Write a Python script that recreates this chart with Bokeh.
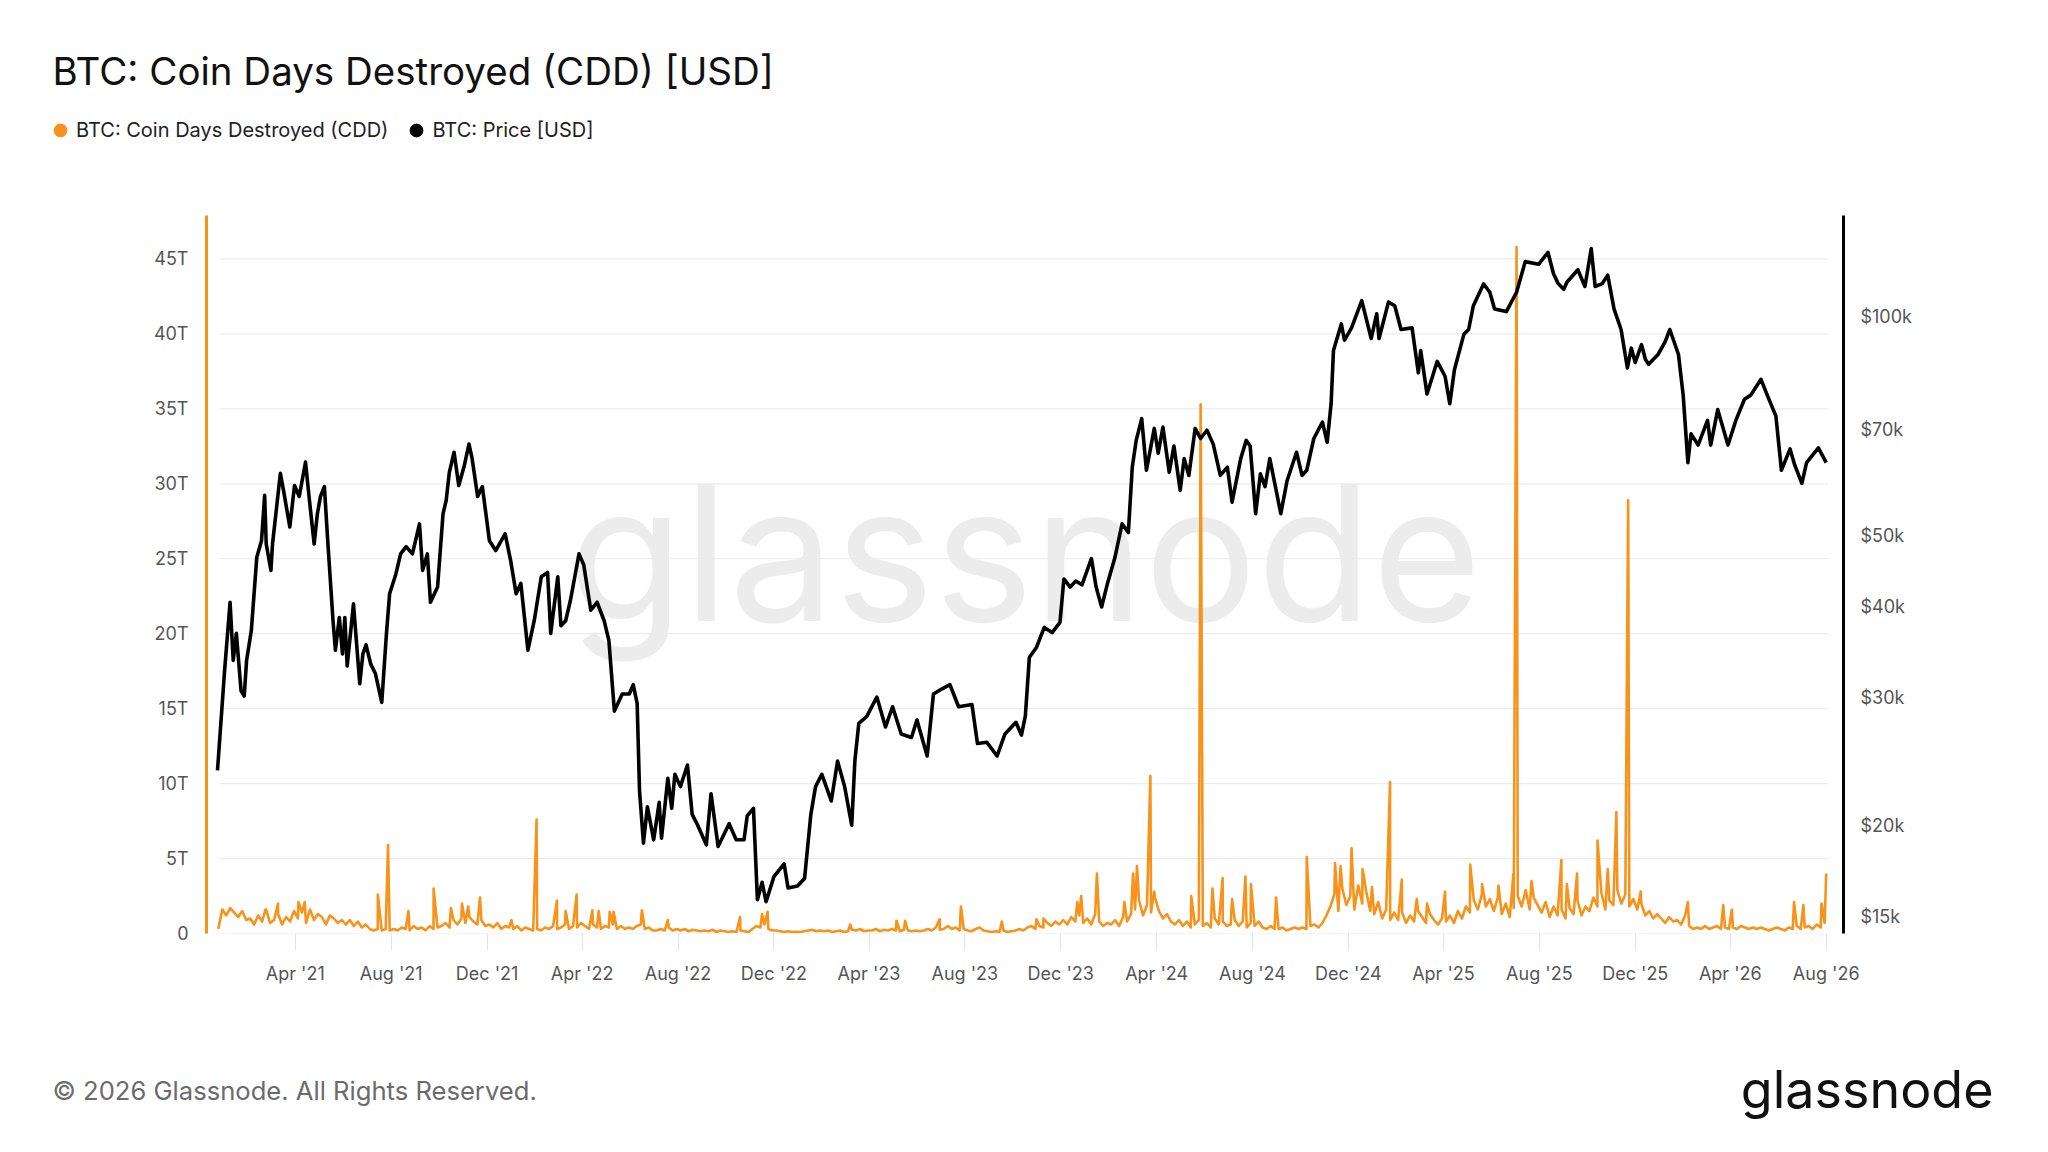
import pandas as pd
from bokeh.plotting import figure
from bokeh.layouts import column
from bokeh.models import (Range1d, LogScale, LogAxis, FixedTicker, NumeralTickFormatter,
                          PrintfTickFormatter, DatetimeTickFormatter, Label, Legend, LegendItem,
                          ColumnDataSource)
from bokeh.embed import file_html
from bokeh.resources import INLINE

FONT = "Inter"
ORANGE = "#f7931a"

# ---------------- texts ----------------
title_text = "BTC: Coin Days Destroyed (CDD) [USD]"
legend_labels = ["BTC: Coin Days Destroyed (CDD)", "BTC: Price [USD]"]
footer_text = "\u00a9 2026 Glassnode. All Rights Reserved."
logo_text = "glassnode"

# ---------------- ticks ----------------
x_tick_dates = ["2021-04-01", "2021-08-01", "2021-12-01", "2022-04-01", "2022-08-01", "2022-12-01",
                "2023-04-01", "2023-08-01", "2023-12-01", "2024-04-01", "2024-08-01", "2024-12-01",
                "2025-04-01", "2025-08-01", "2025-12-01", "2026-04-01", "2026-08-01"]
cdd_ticks = [0, 5, 10, 15, 20, 25, 30, 35, 40, 45]          # trillions USD
price_ticks = [15000, 20000, 30000, 40000, 50000, 70000, 100000]

# ---------------- BTC price (thousand USD) ----------------
price_dates = [
    # Dec 2020 - May 2022
    "2020-12-23", "2021-01-01", "2021-01-08", "2021-01-12", "2021-01-16", "2021-01-22", "2021-01-26", "2021-01-29",
    "2021-02-04", "2021-02-11", "2021-02-17", "2021-02-21", "2021-02-23", "2021-03-01", "2021-03-03", "2021-03-13",
    "2021-03-17", "2021-03-25", "2021-03-31", "2021-04-06", "2021-04-14", "2021-04-19", "2021-04-25", "2021-04-29",
    "2021-05-03", "2021-05-08", "2021-05-12", "2021-05-19", "2021-05-22", "2021-05-27", "2021-05-31", "2021-06-03",
    "2021-06-06", "2021-06-14", "2021-06-22", "2021-06-26", "2021-06-30", "2021-07-06", "2021-07-12", "2021-07-20",
    "2021-07-26", "2021-07-30", "2021-08-07", "2021-08-13", "2021-08-20", "2021-08-28", "2021-09-06", "2021-09-10",
    "2021-09-16", "2021-09-20", "2021-09-29", "2021-10-06", "2021-10-10", "2021-10-14", "2021-10-20", "2021-10-26",
    "2021-11-02", "2021-11-08", "2021-11-12", "2021-11-19", "2021-11-25", "2021-12-04", "2021-12-12", "2021-12-24",
    "2021-12-31", "2022-01-07", "2022-01-13", "2022-01-22", "2022-01-30", "2022-02-08", "2022-02-16", "2022-02-20",
    "2022-03-01", "2022-03-05", "2022-03-11", "2022-03-17", "2022-03-28", "2022-04-03", "2022-04-12", "2022-04-20",
    "2022-04-29", "2022-05-05", "2022-05-12", "2022-05-22",
    # May 2022 - Nov 2023
    "2022-05-31", "2022-06-05", "2022-06-10", "2022-06-13", "2022-06-18", "2022-06-23", "2022-07-01", "2022-07-08",
    "2022-07-11", "2022-07-19", "2022-07-24", "2022-07-28", "2022-08-04", "2022-08-13", "2022-08-19", "2022-08-26",
    "2022-09-06", "2022-09-12", "2022-09-21", "2022-10-05", "2022-10-14", "2022-10-24", "2022-10-28", "2022-11-05",
    "2022-11-10", "2022-11-16", "2022-11-21", "2022-12-01", "2022-12-14", "2022-12-19", "2022-12-31", "2023-01-09",
    "2023-01-17", "2023-01-23", "2023-01-31", "2023-02-12", "2023-02-20", "2023-03-01", "2023-03-10", "2023-03-14",
    "2023-03-19", "2023-03-29", "2023-04-11", "2023-04-22", "2023-05-01", "2023-05-12", "2023-05-25", "2023-06-01",
    "2023-06-14", "2023-06-22", "2023-07-03", "2023-07-13", "2023-07-24", "2023-08-10", "2023-08-17", "2023-08-29",
    "2023-09-11", "2023-09-21", "2023-10-05", "2023-10-12", "2023-10-17", "2023-10-22", "2023-10-31", "2023-11-10",
    "2023-11-20", "2023-11-30",
    # Dec 2023 - May 2025
    "2023-12-05", "2023-12-13", "2023-12-20", "2023-12-28", "2024-01-09", "2024-01-15", "2024-01-22", "2024-01-29",
    "2024-02-08", "2024-02-17", "2024-02-25", "2024-03-01", "2024-03-06", "2024-03-13", "2024-03-19", "2024-03-29",
    "2024-04-03", "2024-04-09", "2024-04-17", "2024-04-23", "2024-05-01", "2024-05-06", "2024-05-12", "2024-05-20",
    "2024-05-27", "2024-06-04", "2024-06-12", "2024-06-21", "2024-06-30", "2024-07-06", "2024-07-17", "2024-07-24",
    "2024-07-29", "2024-08-05", "2024-08-11", "2024-08-17", "2024-08-23", "2024-09-06", "2024-09-14", "2024-09-26",
    "2024-10-03", "2024-10-09", "2024-10-18", "2024-10-29", "2024-11-04", "2024-11-09", "2024-11-12", "2024-11-22",
    "2024-11-26", "2024-12-05", "2024-12-18", "2024-12-30", "2025-01-06", "2025-01-09", "2025-01-21", "2025-01-29",
    "2025-02-06", "2025-02-20", "2025-02-28", "2025-03-03", "2025-03-11", "2025-03-24", "2025-04-03", "2025-04-09",
    "2025-04-15", "2025-04-27", "2025-05-03",
    # May 2025 - Aug 2026
    "2025-05-09", "2025-05-22", "2025-05-30", "2025-06-05", "2025-06-20", "2025-07-03", "2025-07-14", "2025-07-31",
    "2025-08-08", "2025-08-12", "2025-08-19", "2025-08-25", "2025-09-01", "2025-09-05", "2025-09-19", "2025-09-28",
    "2025-10-06", "2025-10-11", "2025-10-20", "2025-10-27", "2025-11-04", "2025-11-13", "2025-11-21", "2025-11-26",
    "2025-12-01", "2025-12-09", "2025-12-14", "2025-12-18", "2025-12-30", "2026-01-08", "2026-01-14", "2026-01-25",
    "2026-01-31", "2026-02-06", "2026-02-10", "2026-02-19", "2026-03-03", "2026-03-07", "2026-03-16", "2026-03-29",
    "2026-04-08", "2026-04-19", "2026-04-27", "2026-05-10", "2026-05-19", "2026-05-29", "2026-06-05", "2026-06-16",
    "2026-06-22", "2026-07-01", "2026-07-07", "2026-07-22", "2026-08-01"]
price_k = [
    23.8, 32.6, 40.5, 33.7, 36.7, 30.6, 30.1, 33.7,
    37.0, 46.7, 49.2, 56.8, 48.7, 44.8, 48.7, 60.9,
    57.7, 51.4, 58.6, 56.6, 63.1, 55.9, 48.7, 53.5,
    56.6, 58.4, 49.7, 38.2, 34.8, 38.6, 34.4, 38.6,
    33.1, 40.3, 31.3, 34.4, 35.4, 33.3, 32.3, 29.5,
    36.7, 41.6, 44.3, 47.2, 48.3, 47.2, 51.9, 44.8,
    47.2, 40.5, 42.5, 53.6, 55.9, 61.1, 65.1, 58.6,
    62.4, 66.8, 63.8, 56.6, 58.4, 49.2, 47.7, 50.3,
    46.2, 41.6, 43.0, 34.8, 38.2, 43.9, 44.5, 36.7,
    43.9, 37.6, 38.2, 40.7, 47.2, 45.6, 39.5, 40.5,
    38.2, 35.9, 28.7, 30.3,
    30.3, 31.2, 29.4, 22.3, 18.9, 21.2, 19.1, 21.5,
    19.2, 23.2, 21.1, 23.5, 22.6, 24.2, 20.7, 20.0,
    18.8, 22.1, 18.7, 20.1, 19.1, 19.1, 20.6, 21.1,
    15.8, 16.7, 15.7, 17.0, 17.7, 16.4, 16.5, 16.9,
    20.7, 22.6, 23.5, 21.6, 24.5, 22.6, 20.0, 24.5,
    27.6, 28.2, 30.0, 27.3, 29.1, 26.7, 26.4, 27.9,
    24.9, 30.3, 30.8, 31.2, 29.1, 29.3, 25.9, 26.0,
    24.9, 26.7, 27.7, 26.6, 28.3, 34.0, 35.1, 37.4,
    36.8, 38.0,
    43.6, 42.5, 43.3, 42.8, 46.5, 42.5, 39.9, 42.8,
    46.7, 51.9, 50.5, 62.1, 67.6, 72.4, 61.5, 70.2,
    64.9, 70.5, 61.1, 66.4, 57.7, 63.8, 60.5, 70.2,
    68.0, 69.8, 66.8, 60.5, 62.1, 55.6, 63.8, 67.6,
    66.4, 53.6, 60.8, 58.4, 63.8, 53.6, 59.5, 65.1,
    60.5, 61.5, 68.0, 71.6, 67.2, 75.9, 89.8, 97.7,
    92.8, 96.5, 105.2, 93.3, 100.9, 93.3, 104.7, 103.5,
    96.0, 96.5, 83.7, 89.8, 78.3, 86.8, 82.8, 75.9,
    84.6, 94.6, 96.0,
    103.5, 110.9, 108.0, 102.4, 101.6, 108.0, 119.0, 118.0,
    121.0, 122.5, 114.5, 111.0, 109.0, 111.5, 116.0, 110.0,
    124.0, 110.0, 111.0, 114.0, 102.5, 96.0, 85.0, 90.5,
    86.5, 91.5, 87.3, 86.0, 88.7, 92.3, 96.0, 88.7,
    78.0, 63.0, 69.0, 66.6, 72.0, 66.6, 74.5, 66.6,
    72.0, 77.0, 78.0, 82.0, 77.5, 73.0, 61.5, 65.8,
    62.5, 59.0, 63.0, 66.0, 63.0]

# ---------------- CDD (trillion USD) ----------------
cdd_base_start = "2020-12-24"
cdd_base_end = "2026-07-30"
cdd_base = [
    0.3, 1.6, 1.2, 1.7, 1.4, 1.1, 1.5, 0.9,          # Dec 20 - Jan 21
    1.0, 0.6, 1.2, 0.8, 1.6, 0.7,                    # Feb 21
    0.9, 1.3, 0.6, 1.1, 0.8, 1.5,                    # Mar 21
    1.0, 1.4, 0.7, 1.6, 0.9, 1.3,                    # Apr 21
    1.1, 0.6, 1.2, 1.0, 0.7, 0.9,                    # May 21
    0.6, 0.9, 0.5, 0.8, 0.4, 0.6,                    # Jun 21
    0.3, 0.2, 0.3, 0.2, 0.3, 0.2,                    # Jul 21
    0.3, 0.2, 0.4, 0.3, 0.2, 0.5,                    # Aug 21
    0.3, 0.4, 0.2, 0.5, 0.3, 0.4,                    # Sep 21
    0.5, 0.7, 0.4, 0.9, 0.6, 1.0,                    # Oct 21
    0.7, 1.1, 0.8, 0.6, 0.9, 0.5,                    # Nov 21
    0.6, 0.4, 0.7, 0.3, 0.5, 0.4,                    # Dec 21
    0.3, 0.5, 0.2, 0.4, 0.3, 0.2,                    # Jan 22
    0.3, 0.2, 0.4, 0.3, 0.5, 0.3,                    # Feb 22
    0.4, 0.6, 0.3, 0.5, 0.4, 0.7,                    # Mar 22
    0.5, 0.3, 0.6, 0.4, 0.3, 0.5,                    # Apr 22
    0.4, 0.6, 0.3, 0.5, 0.3, 0.4,                    # May 22
    0.3, 0.5, 0.6, 0.3, 0.4, 0.2,                    # Jun 22
    0.2, 0.3, 0.2, 0.4, 0.2, 0.3,                    # Jul 22
    0.2, 0.3, 0.15, 0.25, 0.2, 0.15,                 # Aug 22
    0.2, 0.15, 0.25, 0.1, 0.2, 0.15,                 # Sep 22
    0.1, 0.15, 0.1, 0.2, 0.15, 0.1,                  # Oct 22
    0.3, 0.5, 0.4, 0.6, 0.3, 0.2,                    # Nov 22
    0.2, 0.15, 0.1, 0.15, 0.1, 0.12,                 # Dec 22
    0.1, 0.15, 0.2, 0.25, 0.15, 0.2,                 # Jan 23
    0.15, 0.2, 0.1, 0.15, 0.2, 0.1,                  # Feb 23
    0.15, 0.25, 0.2, 0.3, 0.15, 0.2,                 # Mar 23
    0.2, 0.3, 0.15, 0.25, 0.2, 0.3,                  # Apr 23
    0.2, 0.15, 0.25, 0.2, 0.15, 0.2,                 # May 23
    0.15, 0.2, 0.3, 0.2, 0.4, 0.25,                  # Jun 23
    0.3, 0.5, 0.3, 0.4, 0.2, 0.3,                    # Jul 23
    0.2, 0.15, 0.3, 0.4, 0.2, 0.15,                  # Aug 23
    0.1, 0.15, 0.1, 0.2, 0.1, 0.15,                  # Sep 23
    0.2, 0.3, 0.2, 0.4, 0.5, 0.3,                    # Oct 23
    0.5, 0.4, 0.7, 0.5, 0.8, 0.6,                    # Nov 23
    0.9, 0.6, 1.1, 0.8, 1.2, 0.7,                    # Dec 23
    1.0, 0.6, 1.3, 0.8, 0.5, 0.7,                    # Jan 24
    0.6, 0.9, 0.5, 1.1, 0.8, 1.3,                    # Feb 24
    1.6, 2.2, 1.2, 1.9, 1.4, 2.4,                    # Mar 24
    1.5, 1.0, 1.3, 0.8, 0.6, 0.9,                    # Apr 24
    0.5, 0.8, 0.4, 0.6, 0.9, 0.5,                    # May 24
    0.7, 0.4, 1.0, 0.6, 0.8, 0.5,                    # Jun 24
    0.6, 0.9, 0.5, 0.8, 0.4, 0.7,                    # Jul 24
    0.5, 0.8, 0.4, 0.3, 0.5, 0.3,                    # Aug 24
    0.3, 0.4, 0.2, 0.3, 0.4, 0.3,                    # Sep 24
    0.4, 0.3, 0.5, 0.6, 0.4, 0.7,                    # Oct 24
    1.2, 1.8, 2.6, 1.5, 3.0, 1.9,                    # Nov 24
    2.5, 1.6, 3.2, 2.0, 2.8, 1.5,                    # Dec 24
    1.3, 2.1, 1.0, 1.6, 0.9, 1.4,                    # Jan 25
    0.9, 1.4, 0.7, 1.2, 0.8, 1.5,                    # Feb 25
    1.1, 0.7, 1.3, 0.9, 0.6, 1.0,                    # Mar 25
    0.8, 1.2, 0.7, 1.5, 1.0, 1.8,                    # Apr 25
    1.4, 2.2, 1.6, 2.6, 1.8, 2.3,                    # May 25
    1.5, 2.4, 1.3, 2.0, 1.1, 1.7,                    # Jun 25
    2.5, 1.8, 2.9, 1.6, 2.4, 1.9,                    # Jul 25
    1.4, 2.1, 1.1, 1.8, 1.2, 1.6,                    # Aug 25
    1.0, 1.7, 1.3, 2.2, 1.2, 1.8,                    # Sep 25
    1.5, 2.4, 1.8, 2.7, 1.6, 2.2,                    # Oct 25
    1.9, 2.9, 2.0, 2.6, 1.8, 2.3,                    # Nov 25
    1.6, 2.0, 1.2, 1.5, 1.0, 1.3,                    # Dec 25
    1.0, 0.7, 1.1, 0.8, 0.9, 0.6,                    # Jan 26
    1.2, 0.5, 0.3, 0.4, 0.3, 0.5,                    # Feb 26
    0.3, 0.4, 0.5, 0.3, 0.4, 0.3,                    # Mar 26
    0.4, 0.3, 0.5, 0.4, 0.3, 0.4,                    # Apr 26
    0.3, 0.4, 0.3, 0.2, 0.3, 0.4,                    # May 26
    0.3, 0.2, 0.4, 0.3, 0.5, 0.3,                    # Jun 26
    0.4, 0.5, 0.3, 0.6, 0.4, 0.7]                    # Jul 26
cdd_spike_dates = [
    "2021-02-22", "2021-03-10", "2021-04-05", "2021-04-13", "2021-07-15", "2021-07-28", "2021-08-23", "2021-09-24",
    "2021-10-16", "2021-10-30", "2021-11-07", "2021-11-22", "2022-01-01", "2022-02-02", "2022-02-28", "2022-03-11",
    "2022-03-25", "2022-04-14", "2022-04-22", "2022-05-06", "2022-05-11", "2022-06-16", "2022-07-19", "2022-10-19",
    "2022-11-16", "2022-11-23", "2023-03-08", "2023-05-06", "2023-05-17", "2023-06-30", "2023-07-27", "2023-09-17",
    "2023-10-31", "2023-11-09", "2023-12-22", "2023-12-27", "2024-01-16", "2024-02-20", "2024-03-02", "2024-03-07",
    "2024-03-24", "2024-03-29", "2024-05-15", "2024-05-27", "2024-06-11", "2024-06-24", "2024-07-06", "2024-07-23",
    "2024-07-30", "2024-08-31", "2024-10-09", "2024-11-14", "2024-11-21", "2024-12-05", "2024-12-19", "2024-12-31",
    "2025-01-23", "2025-02-07", "2025-02-26", "2025-03-11", "2025-04-03", "2025-05-05", "2025-05-20", "2025-06-10",
    "2025-06-29", "2025-07-03", "2025-07-22", "2025-08-29", "2025-09-05", "2025-09-18", "2025-10-14", "2025-10-27",
    "2025-11-07", "2025-11-22", "2025-12-08", "2026-02-06", "2026-03-23", "2026-04-03", "2026-06-21", "2026-07-03",
    "2026-07-26", "2026-08-01"]
cdd_spike_values = [
    1.6, 2.0, 2.1, 2.1, 2.6, 5.9, 1.5, 3.0,
    1.7, 2.0, 1.8, 2.4, 0.9, 7.6, 2.2, 1.5,
    2.6, 1.55, 1.5, 1.45, 1.45, 1.55, 0.9, 1.1,
    1.3, 1.45, 0.6, 0.85, 0.85, 0.95, 1.8, 0.8,
    0.95, 1.0, 2.1, 2.5, 4.0, 2.1, 4.0, 4.5,
    10.5, 2.8, 2.5, 35.3, 3.0, 3.7, 2.3, 3.8,
    3.3, 2.4, 5.1, 4.7, 4.5, 5.7, 4.3, 3.1,
    10.1, 3.6, 2.3, 2.0, 2.8, 4.6, 3.3, 3.2,
    4.0, 45.8, 3.5, 4.9, 3.3, 4.0, 6.2, 4.3,
    8.1, 28.9, 2.8, 2.1, 1.9, 1.6, 2.1, 1.9,
    2.0, 4.0]

# ---------------- data frames ----------------
price_df = pd.DataFrame({"date": pd.to_datetime(price_dates), "price": [v * 1000 for v in price_k]})
base_df = pd.DataFrame({"date": pd.date_range(cdd_base_start, cdd_base_end, periods=len(cdd_base)),
                        "cdd": cdd_base})
spike_df = pd.DataFrame({"date": pd.to_datetime(cdd_spike_dates), "cdd": cdd_spike_values})
cdd_df = pd.concat([base_df, spike_df]).sort_values("date").reset_index(drop=True)

# ---------------- geometry (page pixels) ----------------
W = 2032
FL, FR = 206, 1843                 # frame left / right
HEAD_H = 215                       # header band height (title + legend)
FRAME_H = 718                      # plot frame height
MAIN_BOTTOM = 77                   # space for x tick labels
FOOT_H = 126                       # footer band height
x_start, x_end = pd.Timestamp("2020-12-09"), pd.Timestamp("2026-08-23")
grid_start, grid_end = pd.Timestamp("2020-12-26"), pd.Timestamp("2026-08-03")
cdd_top = 47.9
price_lo, price_hi = 14200, 137700


def band(height):
    # a borderless strip whose data units are its own pixels (y measured downwards)
    f = figure(width=W, height=height, x_range=Range1d(0, W), y_range=Range1d(height, 0),
               output_backend="svg", toolbar_location=None, min_border=0)
    f.min_border_left = f.min_border_right = f.min_border_top = f.min_border_bottom = 0
    f.frame_align = False
    f.axis.visible = False
    f.grid.visible = False
    f.outline_line_color = None
    f.background_fill_color = "white"
    f.border_fill_color = "white"
    return f


# ---------------- header band ----------------
head = band(HEAD_H)
head.add_layout(Label(x=52, y=70, text=title_text, text_font=FONT, text_font_size="38.5px",
                      text_color="#111111", text_baseline="middle", text_align="left"))
# legend-only renderers: their single point lies outside the visible strip
dot_src = ColumnDataSource(dict(x=[-5000], y=[-5000]))
r_dot1 = head.scatter(x="x", y="y", source=dot_src, marker="circle", size=13,
                      fill_color=ORANGE, line_color=ORANGE)
r_dot2 = head.scatter(x="x", y="y", source=dot_src, marker="circle", size=13,
                      fill_color="black", line_color="black")
ROW_H = 32
row_center = 130
legend = Legend(items=[LegendItem(label=legend_labels[0], renderers=[r_dot1]),
                       LegendItem(label=legend_labels[1], renderers=[r_dot2])],
                location=(44, HEAD_H - (row_center + ROW_H // 2)), orientation="horizontal",
                label_text_font=FONT, label_text_font_size="20px", label_text_color="#222222",
                label_height=ROW_H, glyph_width=ROW_H, glyph_height=ROW_H, label_standoff=-2,
                spacing=12, padding=0, margin=0, border_line_color=None,
                background_fill_alpha=0)
head.add_layout(legend)

# ---------------- main chart ----------------
p = figure(width=W, height=FRAME_H + MAIN_BOTTOM, x_axis_type="datetime",
           x_range=Range1d(x_start, x_end), y_range=Range1d(0, cdd_top),
           output_backend="svg", toolbar_location=None,
           min_border_left=FL, min_border_right=W - FR, min_border_top=0,
           min_border_bottom=MAIN_BOTTOM)
p.frame_align = False
p.outline_line_color = None
p.background_fill_color = "white"
p.border_fill_color = "white"
p.xgrid.visible = False
p.ygrid.visible = False

p.extra_y_ranges = {"price": Range1d(price_lo, price_hi)}
p.extra_y_scales = {"price": LogScale()}

grid_src = ColumnDataSource(dict(x0=[grid_start] * len(cdd_ticks), x1=[grid_end] * len(cdd_ticks),
                                 y=cdd_ticks))
p.segment(x0="x0", x1="x1", y0="y", y1="y", source=grid_src, line_color="#ebebeb", line_width=1.2)

x_mid = (x_start.timestamp() + x_end.timestamp()) / 2 * 1000
p.add_layout(Label(x=x_mid, y=cdd_top * 0.53, text=logo_text, text_align="center",
                   text_baseline="middle", text_font=FONT, text_font_size="188px",
                   text_color="#ececec", level="underlay"))

p.line(x="date", y="cdd", source=ColumnDataSource(cdd_df), line_color=ORANGE, line_width=2.6,
       line_join="round")
p.line(x="date", y="price", source=ColumnDataSource(price_df), line_color="black", line_width=3.6,
       line_join="round", y_range_name="price")

xa = p.xaxis[0]
xa.ticker = FixedTicker(ticks=[pd.Timestamp(d).timestamp() * 1000 for d in x_tick_dates])
fmt = "%b '%y"
xa.formatter = DatetimeTickFormatter(days=fmt, months=fmt, years=fmt, hours=fmt, hourmin=fmt,
                                     minutes=fmt, minsec=fmt, seconds=fmt, milliseconds=fmt,
                                     microseconds=fmt)
xa.axis_line_color = None
xa.major_tick_line_color = "#e3e3e3"
xa.major_tick_line_width = 1
xa.major_tick_out = 17
xa.major_tick_in = 0
xa.minor_tick_out = 0
xa.minor_tick_in = 0
xa.major_label_standoff = 12
xa.major_label_text_font = FONT
xa.major_label_text_font_size = "18px"
xa.major_label_text_color = "#555555"

ya = p.yaxis[0]
ya.ticker = FixedTicker(ticks=cdd_ticks)
ya.formatter = PrintfTickFormatter(format="%dT")
ya.major_label_overrides = {0: "0"}
ya.axis_line_color = ORANGE
ya.axis_line_width = 3
ya.major_tick_out = 0
ya.major_tick_in = 0
ya.minor_tick_out = 0
ya.minor_tick_in = 0
ya.major_label_standoff = 18
ya.major_label_text_font = FONT
ya.major_label_text_font_size = "18px"
ya.major_label_text_color = "#555555"

ra = LogAxis(y_range_name="price", ticker=FixedTicker(ticks=price_ticks),
             formatter=NumeralTickFormatter(format="$0a"))
ra.axis_line_color = "black"
ra.axis_line_width = 3
ra.major_tick_out = 0
ra.major_tick_in = 0
ra.minor_tick_out = 0
ra.minor_tick_in = 0
ra.major_label_standoff = 17
ra.major_label_text_font = FONT
ra.major_label_text_font_size = "18px"
ra.major_label_text_color = "#555555"
p.add_layout(ra, "right")

# ---------------- footer band ----------------
foot = band(FOOT_H)
foot.add_layout(Label(x=52, y=80, text=footer_text, text_font=FONT, text_font_size="25.6px",
                      text_color="#6b6b6b", text_baseline="middle", text_align="left"))
foot.add_layout(Label(x=1993, y=79, text=logo_text, text_font=FONT, text_font_size="52px",
                      text_color="#111111", text_baseline="middle", text_align="right"))

page = column(head, p, foot, spacing=0)
open("out.html", "w").write(file_html(page, INLINE))
